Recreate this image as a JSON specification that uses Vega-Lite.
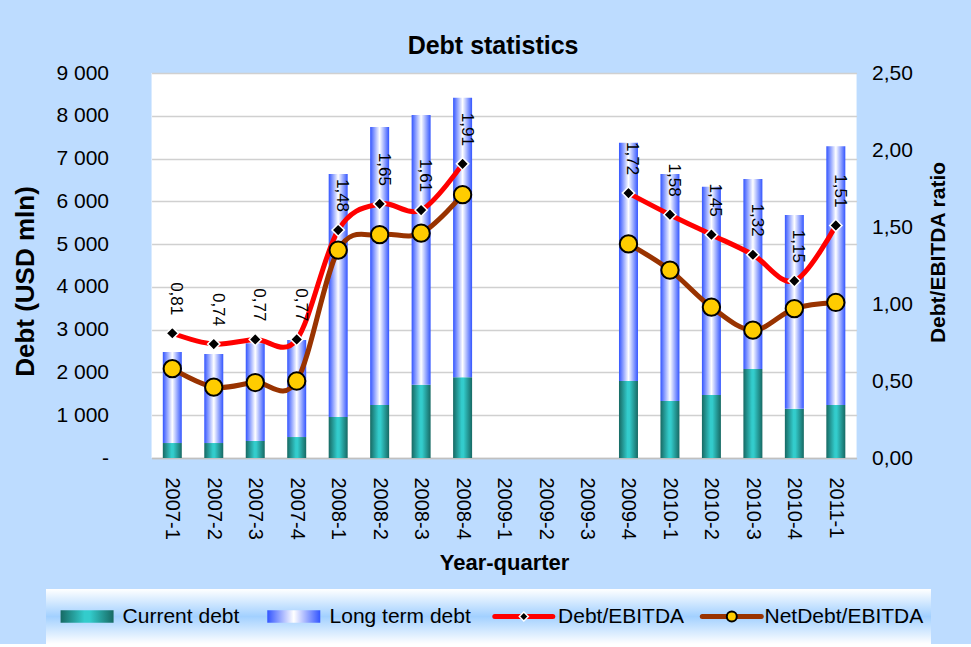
{
  "$schema": "https://vega.github.io/schema/vega-lite/v6.json",
  "background": "#bddcff",
  "padding": {"left": 12, "top": 34, "right": 0, "bottom": 0},
  "config": {
    "font": "Liberation Sans",
    "locale": {"number": {"decimal": ",", "thousands": " ", "grouping": [3], "currency": ["", ""]}},
    "view": {"fill": "#ffffff", "stroke": null},
    "axis": {"labelColor": "#000000", "titleColor": "#000000"},
    "title": {"color": "#000000"}
  },
  "datasets": {
    "debt": [
      {"quarter": "2007-1", "current": 350, "longterm": 2130, "debt_ebitda": 0.81, "netdebt_ebitda": 0.58},
      {"quarter": "2007-2", "current": 350, "longterm": 2080, "debt_ebitda": 0.74, "netdebt_ebitda": 0.46},
      {"quarter": "2007-3", "current": 400, "longterm": 2280, "debt_ebitda": 0.77, "netdebt_ebitda": 0.49},
      {"quarter": "2007-4", "current": 490, "longterm": 2270, "debt_ebitda": 0.77, "netdebt_ebitda": 0.50},
      {"quarter": "2008-1", "current": 960, "longterm": 5680, "debt_ebitda": 1.48, "netdebt_ebitda": 1.35},
      {"quarter": "2008-2", "current": 1240, "longterm": 6500, "debt_ebitda": 1.65, "netdebt_ebitda": 1.45},
      {"quarter": "2008-3", "current": 1710, "longterm": 6310, "debt_ebitda": 1.61, "netdebt_ebitda": 1.46},
      {"quarter": "2008-4", "current": 1890, "longterm": 6530, "debt_ebitda": 1.91, "netdebt_ebitda": 1.71},
      {"quarter": "2009-1", "current": null, "longterm": null, "debt_ebitda": null, "netdebt_ebitda": null},
      {"quarter": "2009-2", "current": null, "longterm": null, "debt_ebitda": null, "netdebt_ebitda": null},
      {"quarter": "2009-3", "current": null, "longterm": null, "debt_ebitda": null, "netdebt_ebitda": null},
      {"quarter": "2009-4", "current": 1800, "longterm": 5570, "debt_ebitda": 1.72, "netdebt_ebitda": 1.39},
      {"quarter": "2010-1", "current": 1330, "longterm": 5310, "debt_ebitda": 1.58, "netdebt_ebitda": 1.22},
      {"quarter": "2010-2", "current": 1470, "longterm": 4870, "debt_ebitda": 1.45, "netdebt_ebitda": 0.98},
      {"quarter": "2010-3", "current": 2080, "longterm": 4440, "debt_ebitda": 1.32, "netdebt_ebitda": 0.83},
      {"quarter": "2010-4", "current": 1150, "longterm": 4530, "debt_ebitda": 1.15, "netdebt_ebitda": 0.97},
      {"quarter": "2011-1", "current": 1240, "longterm": 6050, "debt_ebitda": 1.51, "netdebt_ebitda": 1.01}
    ],
    "legend": [
      {"series": "Current debt"},
      {"series": "Long term debt"},
      {"series": "Debt/EBITDA"},
      {"series": "NetDebt/EBITDA"}
    ]
  },
  "center": true,
  "spacing": 15,
  "vconcat": [
    {
      "title": {"text": "Debt statistics", "fontSize": 25, "fontWeight": "bold", "anchor": "middle", "dx": -11, "offset": 3},
      "width": 705,
      "height": 385,
      "data": {"name": "debt"},
      "encoding": {
        "x": {
          "field": "quarter", "type": "ordinal",
          "scale": {"domain": ["2007-1","2007-2","2007-3","2007-4","2008-1","2008-2","2008-3","2008-4","2009-1","2009-2","2009-3","2009-4","2010-1","2010-2","2010-3","2010-4","2011-1"], "paddingInner": 0.542, "paddingOuter": 0.271},
          "axis": {"title": "Year-quarter", "titleFontSize": 22, "titleFontWeight": "bold", "titlePadding": 13, "labelAngle": 90, "labelFontSize": 20, "labelPadding": 19, "ticks": false, "tickSize": 0, "domain": true, "domainColor": "#c0c0c0", "domainWidth": 1.5, "grid": false}
        }
      },
      "layer": [
        {
          "layer": [
            {
              "mark": {"type": "bar", "fill": {"gradient": "linear", "x1": 0, "y1": 0, "x2": 1, "y2": 0, "stops": [{"offset": 0, "color": "#176963"}, {"offset": 0.45, "color": "#33cccc"}, {"offset": 0.55, "color": "#33cccc"}, {"offset": 1, "color": "#176963"}]}},
              "encoding": {
                "y": {"field": "current", "type": "quantitative", "scale": {"domain": [0, 9000]},
                  "axis": {"orient": "left", "title": "Debt (USD mln)", "titleFontSize": 26, "titleFontWeight": "bold", "titlePadding": 18, "titleY": 208, "labelFontSize": 21, "labelPadding": 43, "ticks": false, "tickSize": 0, "domain": false, "grid": true, "gridColor": "#d0d0d0", "gridWidth": 1.5, "values": [0,1000,2000,3000,4000,5000,6000,7000,8000,9000], "format": ",.0f", "labelExpr": "datum.value == 0 ? '-' : datum.label"}}
              }
            },
            {
              "transform": [
                {"fold": ["current", "longterm"], "as": ["part", "amount"]},
                {"filter": "isValid(datum.amount)"},
                {"stack": "amount", "groupby": ["quarter"], "sort": [{"field": "part", "order": "ascending"}], "as": ["lo", "hi"]},
                {"filter": "datum.part == 'longterm'"}
              ],
              "mark": {"type": "bar", "fill": {"gradient": "linear", "x1": 0, "y1": 0, "x2": 1, "y2": 0, "stops": [{"offset": 0, "color": "#3355ff"}, {"offset": 0.5, "color": "#ffffff"}, {"offset": 1, "color": "#3355ff"}]}},
              "encoding": {
                "y": {"field": "lo", "type": "quantitative", "scale": {"domain": [0, 9000]},
                  "axis": {"orient": "left", "title": "Debt (USD mln)", "titleFontSize": 26, "titleFontWeight": "bold", "titlePadding": 18, "titleY": 208, "labelFontSize": 21, "labelPadding": 43, "ticks": false, "tickSize": 0, "domain": false, "grid": true, "gridColor": "#d0d0d0", "gridWidth": 1.5, "values": [0,1000,2000,3000,4000,5000,6000,7000,8000,9000], "format": ",.0f", "labelExpr": "datum.value == 0 ? '-' : datum.label"}},
                "y2": {"field": "hi"}
              }
            }
          ]
        },
        {
          "encoding": {
            "y": {"field": "debt_ebitda", "type": "quantitative", "scale": {"domain": [0, 2.5]},
              "axis": {"orient": "right", "title": "Debt/EBITDA ratio", "titleFontSize": 21, "titleFontWeight": "bold", "titleAngle": 270, "titleBaseline": "top", "titlePadding": 15, "titleY": 179, "labelFontSize": 21, "labelPadding": 15, "ticks": false, "tickSize": 0, "domain": false, "grid": false, "values": [0, 0.5, 1, 1.5, 2, 2.5], "format": ".2f"}}
          },
          "layer": [
            {
              "mark": {"type": "line", "color": "#ff0000", "strokeWidth": 5, "interpolate": "cardinal"}
            },
            {
              "mark": {"type": "point", "shape": "diamond", "filled": true, "fill": "#000000", "stroke": "#ffffff", "strokeWidth": 1.5, "size": 150, "opacity": 1}
            },
            {
              "mark": {"type": "line", "color": "#993300", "strokeWidth": 5, "interpolate": "cardinal"},
              "encoding": {"y": {"field": "netdebt_ebitda", "type": "quantitative"}}
            },
            {
              "mark": {"type": "point", "shape": "circle", "filled": true, "fill": "#ffcc00", "stroke": "#000000", "strokeWidth": 2, "size": 300, "opacity": 1},
              "encoding": {"y": {"field": "netdebt_ebitda", "type": "quantitative"}}
            },
            {
              "mark": {"type": "text", "angle": 90, "align": "right", "baseline": "middle", "dx": -18, "dy": -4, "fontSize": 17, "color": "#000000"},
              "encoding": {"text": {"field": "debt_ebitda", "type": "quantitative", "format": ".2f"}}
            }
          ]
        }
      ],
      "resolve": {"scale": {"y": "independent"}}
    },
    {
      "title": {"text": " ", "orient": "right", "offset": 113, "fontSize": 10},
      "width": 885,
      "height": 55,
      "view": {"fill": {"gradient": "linear", "x1": 0, "y1": 0, "x2": 0, "y2": 1, "stops": [{"offset": 0, "color": "#ffffff"}, {"offset": 0.5, "color": "#a2d0ff"}, {"offset": 1, "color": "#ffffff"}]}, "stroke": null},
      "data": {"name": "legend"},
      "encoding": {
        "x": {"field": "series", "type": "nominal", "scale": {"type": "band", "domain": ["Current debt", "Long term debt", "Debt/EBITDA", "NetDebt/EBITDA"], "paddingInner": 0, "paddingOuter": 0.068}, "axis": null}
      },
      "layer": [
        {
          "transform": [{"filter": "datum.series == 'Current debt'"}],
          "mark": {"type": "point", "shape": "M-1,-0.24H1V0.24H-1Z", "size": 2809, "filled": true, "fill": {"gradient": "linear", "x1": 0, "y1": 0, "x2": 1, "y2": 0, "stops": [{"offset": 0, "color": "#176963"}, {"offset": 0.45, "color": "#33cccc"}, {"offset": 0.55, "color": "#33cccc"}, {"offset": 1, "color": "#176963"}]}, "opacity": 1},
          "encoding": {"x": {"field": "series", "type": "nominal", "bandPosition": 0.124}}
        },
        {
          "transform": [{"filter": "datum.series == 'Long term debt'"}],
          "mark": {"type": "point", "shape": "M-1,-0.24H1V0.24H-1Z", "size": 2809, "filled": true, "fill": {"gradient": "linear", "x1": 0, "y1": 0, "x2": 1, "y2": 0, "stops": [{"offset": 0, "color": "#3355ff"}, {"offset": 0.5, "color": "#ffffff"}, {"offset": 1, "color": "#3355ff"}]}, "opacity": 1},
          "encoding": {"x": {"field": "series", "type": "nominal", "bandPosition": 0.09}}
        },
        {
          "transform": [{"filter": "datum.series == 'Debt/EBITDA'"}],
          "mark": {"type": "point", "shape": "M-1,0H1", "size": 3364, "filled": false, "stroke": "#ff0000", "strokeWidth": 5, "strokeCap": "round", "opacity": 1},
          "encoding": {"x": {"field": "series", "type": "nominal", "bandPosition": 0.165}}
        },
        {
          "transform": [{"filter": "datum.series == 'Debt/EBITDA'"}],
          "mark": {"type": "point", "shape": "diamond", "size": 80, "filled": true, "fill": "#000000", "stroke": "#ffffff", "strokeWidth": 1.5, "opacity": 1},
          "encoding": {"x": {"field": "series", "type": "nominal", "bandPosition": 0.165}}
        },
        {
          "transform": [{"filter": "datum.series == 'NetDebt/EBITDA'"}],
          "mark": {"type": "point", "shape": "M-1,0H1", "size": 3481, "filled": false, "stroke": "#993300", "strokeWidth": 5, "strokeCap": "round", "opacity": 1},
          "encoding": {"x": {"field": "series", "type": "nominal", "bandPosition": 0.137}}
        },
        {
          "transform": [{"filter": "datum.series == 'NetDebt/EBITDA'"}],
          "mark": {"type": "point", "shape": "circle", "size": 100, "filled": true, "fill": "#ffcc00", "stroke": "#000000", "strokeWidth": 2, "opacity": 1},
          "encoding": {"x": {"field": "series", "type": "nominal", "bandPosition": 0.137}}
        },
        {
          "transform": [{"filter": "datum.series == 'Current debt' || datum.series == 'NetDebt/EBITDA'"}],
          "mark": {"type": "text", "align": "left", "baseline": "middle", "fontSize": 21, "color": "#000000"},
          "encoding": {"x": {"field": "series", "type": "nominal", "bandPosition": 0.29}, "text": {"field": "series", "type": "nominal"}}
        },
        {
          "transform": [{"filter": "datum.series == 'Long term debt'"}],
          "mark": {"type": "text", "align": "left", "baseline": "middle", "fontSize": 21, "color": "#000000"},
          "encoding": {"x": {"field": "series", "type": "nominal", "bandPosition": 0.257}, "text": {"field": "series", "type": "nominal"}}
        },
        {
          "transform": [{"filter": "datum.series == 'Debt/EBITDA'"}],
          "mark": {"type": "text", "align": "left", "baseline": "middle", "fontSize": 21, "color": "#000000"},
          "encoding": {"x": {"field": "series", "type": "nominal", "bandPosition": 0.325}, "text": {"field": "series", "type": "nominal"}}
        }
      ]
    }
  ]
}
